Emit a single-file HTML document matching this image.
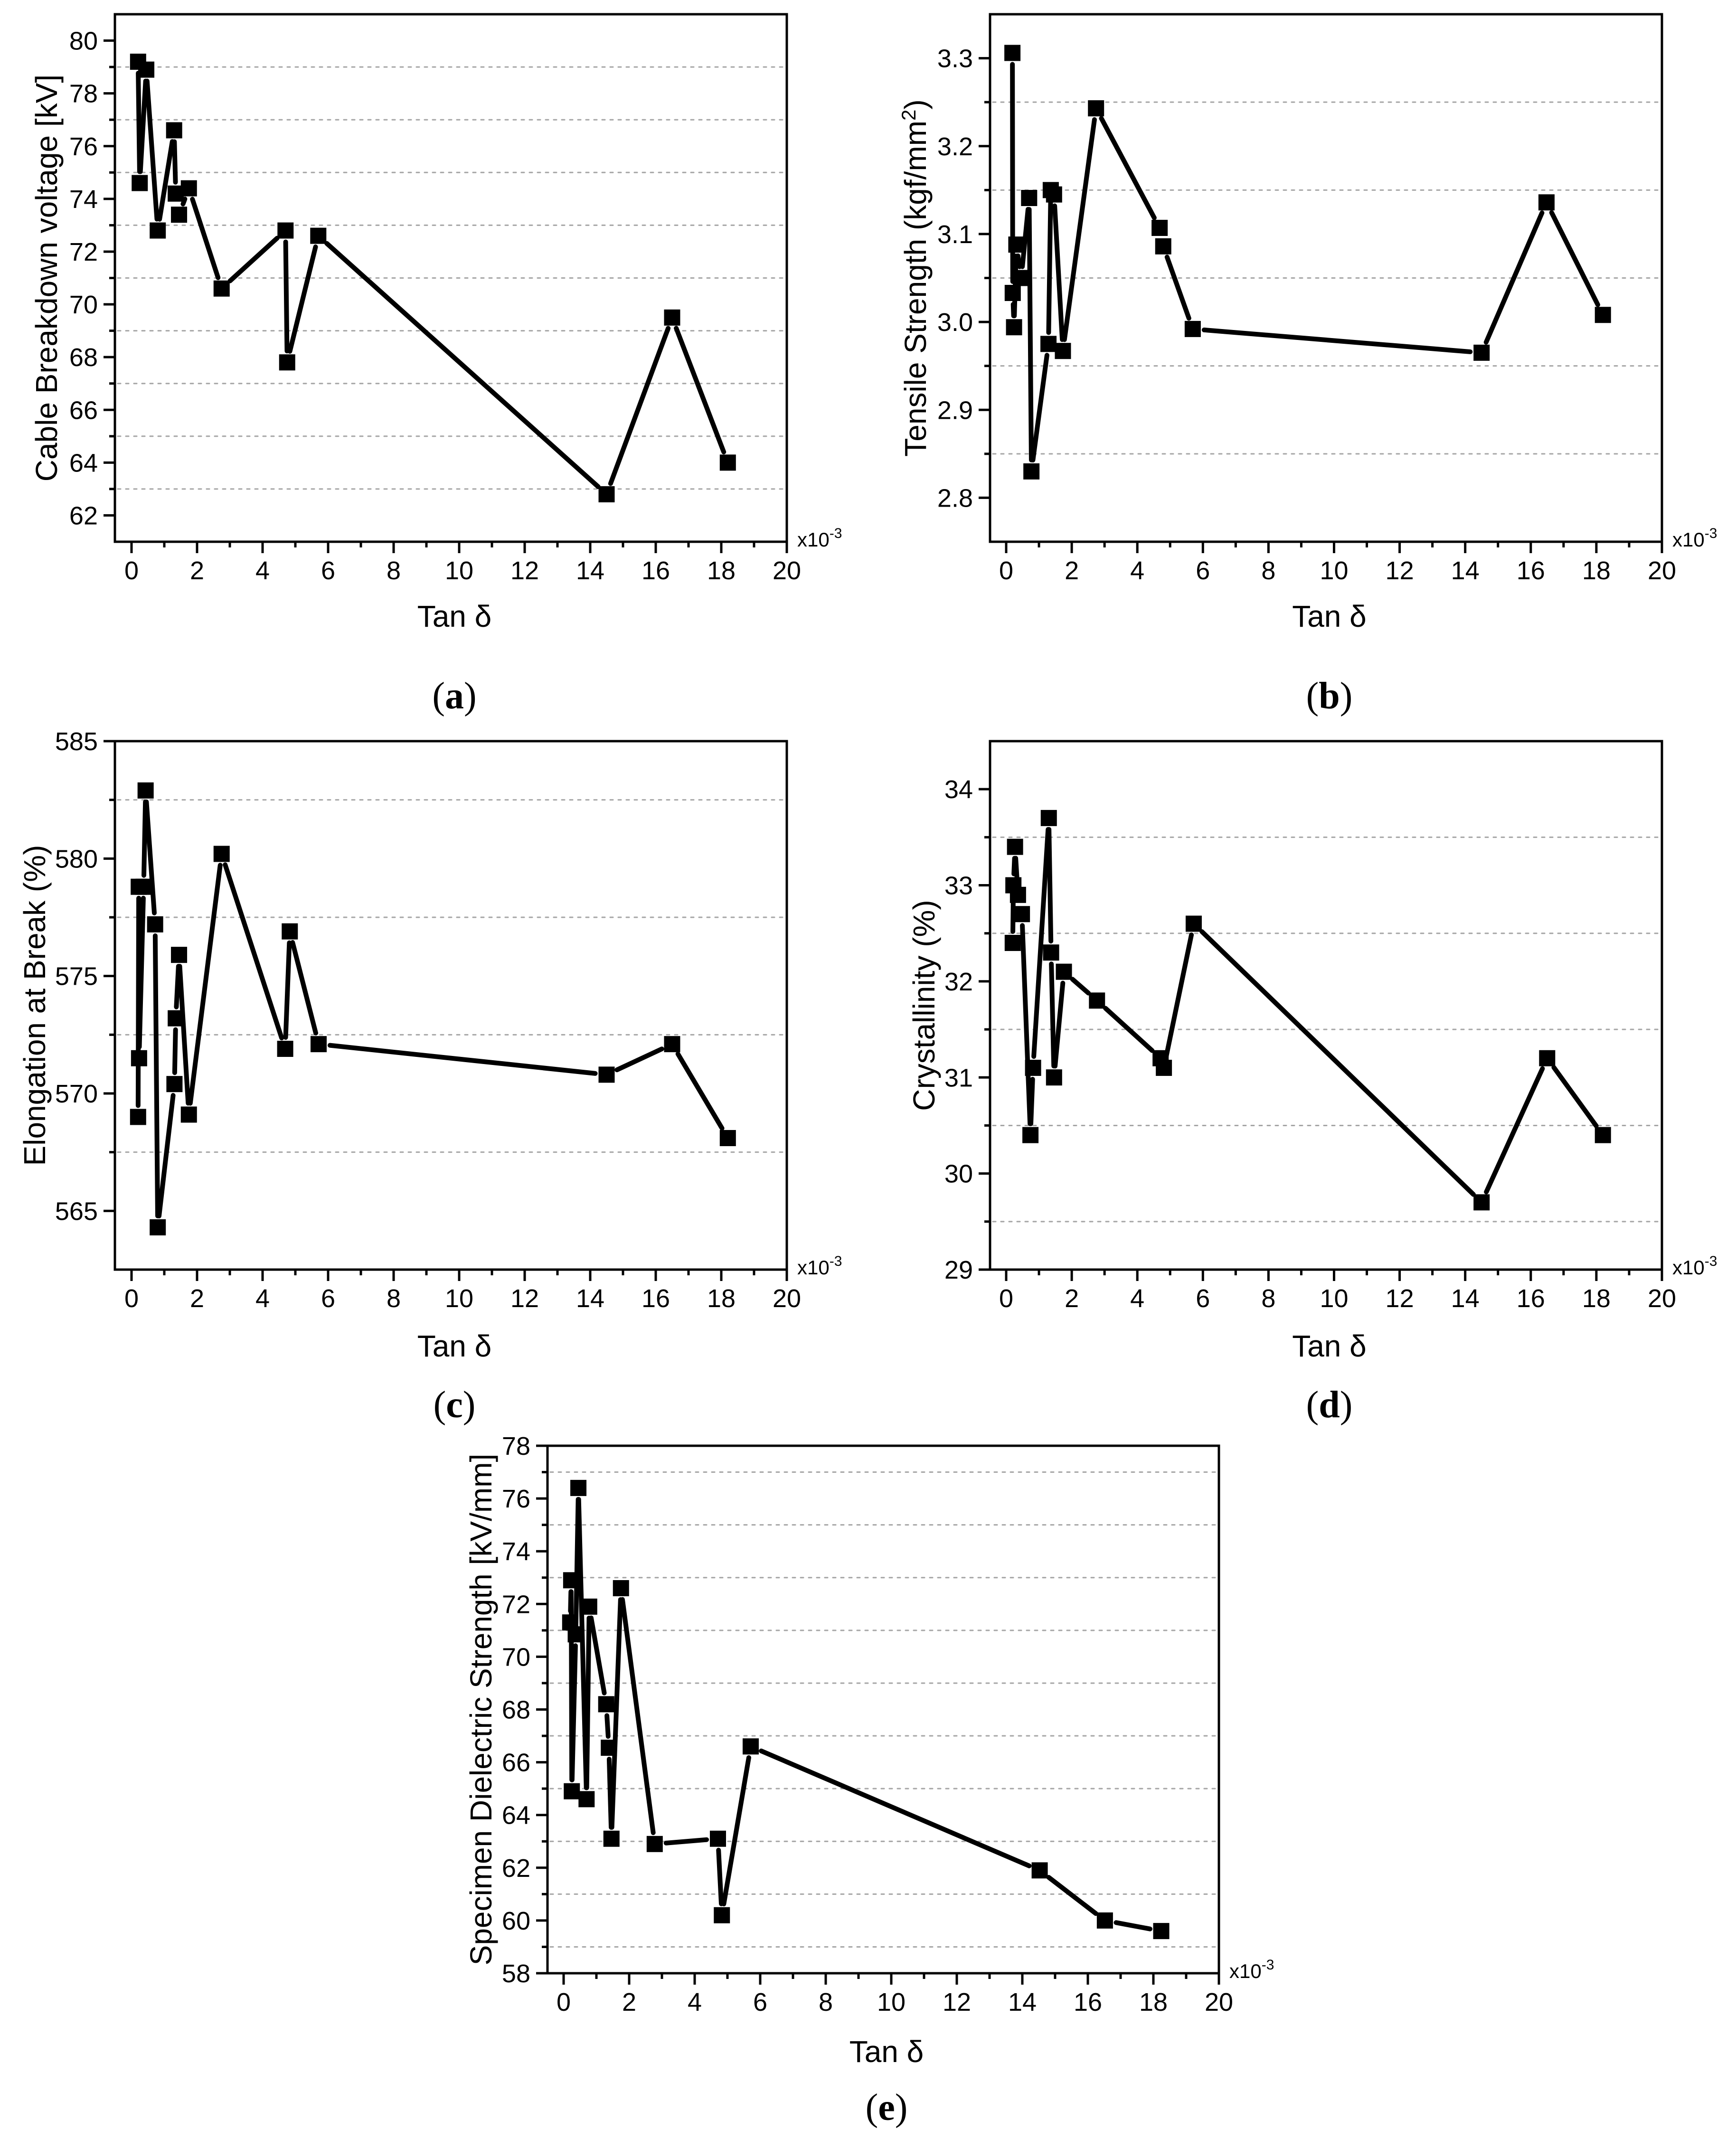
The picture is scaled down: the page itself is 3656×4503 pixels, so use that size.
<!DOCTYPE html>
<html><head><meta charset="utf-8"><style>
html,body{margin:0;padding:0;background:#fff;}
svg{display:block;}
text{font-family:"Liberation Sans",sans-serif;fill:#000;}
.cap{font-family:"Liberation Serif",serif;font-size:80px;}
</style></head><body>
<svg id="fig" width="3656" height="4503" viewBox="0 0 3656 4503" xmlns="http://www.w3.org/2000/svg"></svg>
<script>
// ---- data (Tan delta x1e-3) ----
const aX=[0.2,0.25,0.45,0.8,1.3,1.35,1.45,1.75,2.75,4.7,4.75,5.7,14.5,16.5,18.2];
const aY=[79.2,74.6,78.9,72.8,76.6,74.2,73.4,74.4,70.6,72.8,67.8,72.6,62.8,69.5,64.0];
const bX=[0.19,0.2,0.24,0.31,0.46,0.7,0.77,1.29,1.36,1.46,1.73,2.74,4.68,4.79,5.69,14.5,16.48,18.2];
const bY=[3.306,3.033,2.994,3.088,3.050,3.141,2.830,2.975,3.150,3.145,2.967,3.243,3.107,3.086,2.992,2.965,3.136,3.008];
const cX=[0.2,0.22,0.23,0.37,0.43,0.72,0.8,1.31,1.35,1.45,1.75,2.75,4.69,4.83,5.71,14.5,16.5,18.2];
const cY=[569.0,578.8,571.5,578.8,582.9,577.2,564.3,570.4,573.2,575.9,569.1,580.2,571.9,576.9,572.1,570.8,572.1,568.1];
const dX=[0.2,0.22,0.27,0.36,0.48,0.74,0.82,1.3,1.37,1.46,1.76,2.77,4.71,4.81,5.72,14.5,16.5,18.2];
const dY=[32.4,33.0,33.4,32.9,32.7,30.4,31.1,33.7,32.3,31.0,32.1,31.8,31.2,31.1,32.6,29.7,31.2,30.4];
const eX=[0.2,0.23,0.25,0.37,0.45,0.7,0.78,1.3,1.38,1.46,1.75,2.78,4.71,4.83,5.71,14.53,16.52,18.24];
const eY=[71.3,72.9,64.9,70.85,76.4,64.6,71.9,68.2,66.55,63.1,72.6,62.9,63.1,60.2,66.6,61.9,60.0,59.6];
const xTicks=[0,2,4,6,8,10,12,14,16,18,20];
const aTicks=[62,64,66,68,70,72,74,76,78,80];
const bTicks=[2.8,2.9,3.0,3.1,3.2,3.3];
const cTicks=[565,570,575,580,585];
const dTicks=[29,30,31,32,33,34];
const eTicks=[58,60,62,64,66,68,70,72,74,76,78];
const aGrid=[63,65,67,69,71,73,75,77,79];
const bGrid=[2.85,2.95,3.05,3.15,3.25];
const cGrid=[567.5,572.5,577.5,582.5];
const dGrid=[29.5,30.5,31.5,32.5,33.5];
const eGrid=[59,61,63,65,67,69,71,73,75,77];

const NS="http://www.w3.org/2000/svg";
const svg=document.getElementById('fig');
function mk(tag,attrs,parent){const e=document.createElementNS(NS,tag);for(const k in attrs)e.setAttribute(k,attrs[k]);(parent||svg).appendChild(e);return e;}

function panel(id,L,X,Y,yTicks,yMinor,grid,dec,title,sup,cap){
  const g=mk('g',{});
  
  
  const sx=v=>L.x0+(v-0)/20*(L.x20-L.x0);
  const sy=v=>L.yb+(v-L.ymin)/(L.ymax-L.ymin)*(L.yt-L.yb);
  const top=L.yt,bot=L.yb,left=L.left,right=L.x20;
  grid.forEach(v=>{const l=mk('line',{x1:left+6,x2:right-6,y1:sy(v),y2:sy(v),stroke:'#a6a6a6','stroke-width':3,'stroke-dasharray':'6 11','stroke-linecap':'round'},g);
    });
  const fr=mk('rect',{x:left,y:top,width:right-left,height:bot-top,fill:'none',stroke:'#000','stroke-width':5},g);
  
  yTicks.forEach(v=>{const y=sy(v);
    mk('line',{x1:left-24,x2:left,y1:y,y2:y,stroke:'#000','stroke-width':5},g);
    const t=mk('text',{x:left-36,y:y+19,'font-size':54,'text-anchor':'end'},g);
    t.textContent=v.toFixed(dec);
    });
  yMinor.forEach(v=>{mk('line',{x1:left-12,x2:left,y1:sy(v),y2:sy(v),stroke:'#000','stroke-width':5},g);});
  xTicks.forEach(v=>{const x=sx(v);
    mk('line',{x1:x,x2:x,y1:bot,y2:bot+24,stroke:'#000','stroke-width':5},g);
    const t=mk('text',{x:x,y:bot+79,'font-size':54,'text-anchor':'middle'},g);
    t.textContent=String(v);
    
    if(v<20){mk('line',{x1:sx(v+1),x2:sx(v+1),y1:bot,y2:bot+12,stroke:'#000','stroke-width':5},g);}
  });
  const m=mk('text',{x:right+22,y:bot+10,'font-size':42},g);
  
  m.appendChild(document.createTextNode('x10'));
  const ms=mk('tspan',{dy:-18,'font-size':30},m);ms.textContent='-3';
  const xt=mk('text',{x:(L.x0+L.x20)/2-10,y:L.tanY,'font-size':64,'text-anchor':'middle'},g);
  xt.textContent='Tan δ';
  
  const yt=mk('text',{x:0,y:0,'font-size':64,'text-anchor':'middle',transform:`translate(${L.ytx},${(top+bot)/2}) rotate(-90)`},g);
  
  yt.appendChild(document.createTextNode(title));
  if(sup){const s=mk('tspan',{dy:-22,'font-size':42},yt);s.textContent='2';const s2=mk('tspan',{dy:22},yt);s2.textContent=')';}
  const c=mk('text',{x:(L.x0+L.x20)/2-10,y:L.capY,'text-anchor':'middle','class':'cap'},g);
  
  c.appendChild(document.createTextNode('('));
  const cb=mk('tspan',{'font-weight':'bold'},c);cb.textContent=cap;
  c.appendChild(document.createTextNode(')'));
  const gap=24;
  for(let i=0;i<X.length-1;i++){
    const x1=sx(X[i]),y1=sy(Y[i]),x2=sx(X[i+1]),y2=sy(Y[i+1]);
    const d=Math.hypot(x2-x1,y2-y1);
    if(d<=2*gap+2)continue;
    const ux=(x2-x1)/d,uy=(y2-y1)/d;
    const s=mk('line',{x1:x1+ux*gap,y1:y1+uy*gap,x2:x2-ux*gap,y2:y2-uy*gap,stroke:'#000','stroke-width':10,'stroke-linecap':'round'},g);
    
    
  }
  for(let i=0;i<X.length;i++){
    const r=mk('rect',{x:sx(X[i])-17,y:sy(Y[i])-17,width:34,height:34,fill:'#000'},g);
    
    
  }
}
panel('a',{left:242,x0:277,x20:1657,yt:30,yb:1141,ymin:61,ymax:81,ytx:120,tanY:1320,capY:1492},aX,aY,aTicks,aGrid,aGrid,0,'Cable Breakdown voltage [kV]',false,'a');
panel('b',{left:2085,x0:2119,x20:3500,yt:30,yb:1141,ymin:2.75,ymax:3.35,ytx:1950,tanY:1320,capY:1492},bX,bY,bTicks,bGrid,bGrid,1,'Tensile Strength (kgf/mm',true,'b');
panel('c',{left:242,x0:277,x20:1657,yt:1561,yb:2674,ymin:562.5,ymax:585,ytx:95,tanY:2857,capY:2985},cX,cY,cTicks,cGrid,cGrid,0,'Elongation at Break (%)',false,'c');
panel('d',{left:2085,x0:2119,x20:3500,yt:1561,yb:2674,ymin:29,ymax:34.5,ytx:1968,tanY:2857,capY:2985},dX,dY,dTicks,dGrid,dGrid,0,'Crystallinity (%)',false,'d');
panel('e',{left:1153,x0:1187,x20:2567,yt:3045,yb:4156,ymin:58,ymax:78,ytx:1035,tanY:4343,capY:4465},eX,eY,eTicks,eGrid,eGrid,0,'Specimen Dielectric Strength [kV/mm]',false,'e');
</script>
</body></html>
